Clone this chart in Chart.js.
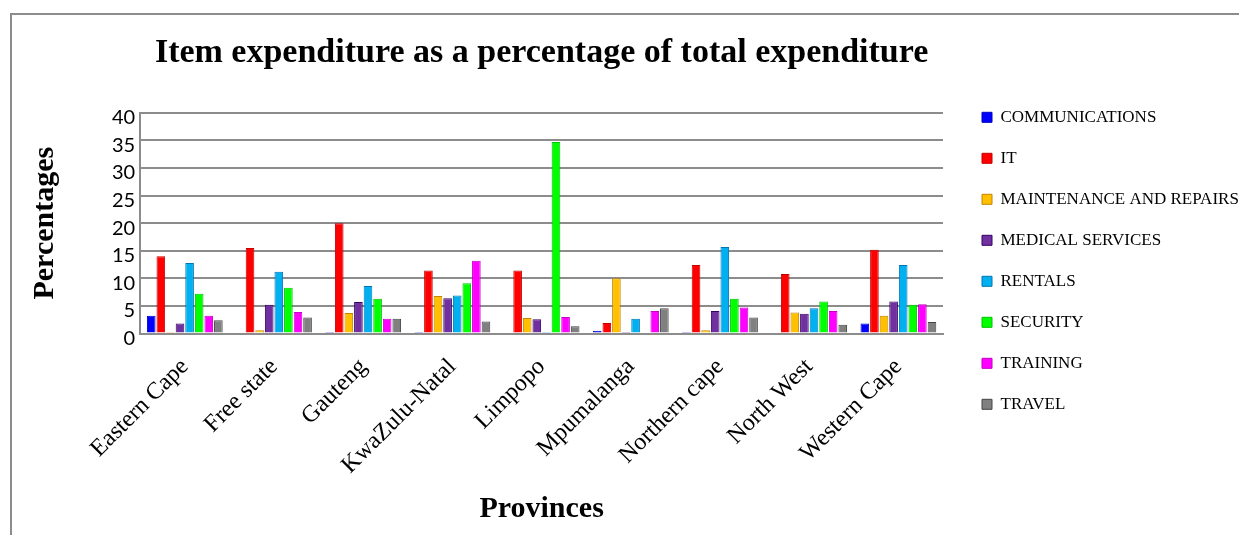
<!DOCTYPE html>
<html>
<head>
<meta charset="utf-8">
<script src="https://cdn.jsdelivr.net/npm/chart.js@4.4.1/dist/chart.umd.min.js"></script>
<style>
  html, body { margin: 0; padding: 0; background: #fff; overflow: hidden; }
  #frame {
    position: absolute; left: 10px; top: 13px;
    border-left: 2px solid #8c8c8c; border-top: 2px solid #8c8c8c;
    width: 1240px; height: 530px;
  }
  #wrap { position: absolute; left: 0; top: 0; width: 1227px; height: 520px; }
</style>
</head>
<body>
<div id="frame"><div id="wrap"><canvas id="chart"></canvas></div></div>
<script>
// provinces on the x axis
const provinces = ['Eastern Cape', 'Free state', 'Gauteng', 'KwaZulu-Natal', 'Limpopo',
                   'Mpumalanga', 'Northern cape', 'North West', 'Western Cape'];

// expenditure items (% of total), one value per province
const communications = [3.2, 0.2, 0.3, 0.1, 0.2, 0.5, 0.3, 0.2, 1.8];
const it             = [14.0, 15.5, 20.0, 11.4, 11.4, 1.9, 12.4, 10.8, 15.2];
const maintenance    = [0.3, 0.6, 3.7, 6.8, 2.8, 10.0, 0.6, 3.8, 3.2];
const medical        = [1.8, 5.2, 5.7, 6.4, 2.6, 0.1, 4.1, 3.6, 5.8];
const rentals        = [12.8, 11.2, 8.6, 6.9, 0.1, 2.7, 15.7, 4.6, 12.4];
const security       = [7.2, 8.3, 6.3, 9.1, 34.7, 0.2, 6.3, 5.8, 5.2];
const training       = [3.2, 3.9, 2.7, 13.2, 3.0, 4.1, 4.7, 4.1, 5.3];
const travel         = [2.4, 2.9, 2.7, 2.2, 1.3, 4.6, 2.9, 1.6, 2.1];

const seriesNames = ['COMMUNICATIONS', 'IT', 'MAINTENANCE AND REPAIRS', 'MEDICAL SERVICES',
                     'RENTALS', 'SECURITY', 'TRAINING', 'TRAVEL'];
const seriesValues = [communications, it, maintenance, medical, rentals, security, training, travel];
const seriesColors = ['#0000ff', '#ff0000', '#ffc000', '#7030a0', '#00b0f0', '#00ff00', '#ff00ff', '#808080'];

// darker edge for each bar, gives a bit of the old 3d look
function shade(hex, amt) {
    const n = parseInt(hex.slice(1), 16);
    const r = Math.max(0, (n >> 16) - amt), g = Math.max(0, ((n >> 8) & 255) - amt), b = Math.max(0, (n & 255) - amt);
    return 'rgb(' + r + ',' + g + ',' + b + ')';
}

const serif = '"Liberation Serif", serif';
const ctx = document.getElementById('chart').getContext('2d');

new Chart(ctx, {
    type: 'bar',
    data: {
        labels: provinces,
        datasets: seriesNames.map((name, i) => ({
            label: name,
            data: seriesValues[i],
            backgroundColor: seriesColors[i],
            borderColor: shade(seriesColors[i], 60),
            borderWidth: 1,
            categoryPercentage: 0.86,
            barPercentage: 0.9
        }))
    },
    options: {
        responsive: true,
        maintainAspectRatio: false,
        animation: false,
        layout: { padding: { left: 12, top: 0, right: 0, bottom: 0 } },
        plugins: {
            title: {
                display: true,
                fullSize: false, // center over the plot, not the whole canvas
                text: 'Item expenditure as a percentage of total expenditure',
                color: '#000',
                font: { family: serif, size: 34, weight: 'bold' },
                padding: { top: 18, bottom: 39 }
            },
            legend: {
                position: 'right',
                align: 'start',
                maxWidth: 281,
                title: {
                    display: true,
                    text: ' ',
                    font: { size: 9 },
                    padding: { top: 0, bottom: 59 }
                },
                labels: {
                    color: '#000',
                    boxWidth: 10,
                    boxHeight: 10,
                    padding: 24,
                    font: { family: serif, size: 17 }
                }
            },
            tooltip: { enabled: false }
        },
        scales: {
            x: {
                grid: { display: false },
                border: { display: true, color: '#8c8c8c', width: 2 },
                ticks: {
                    color: '#000',
                    minRotation: 45,
                    maxRotation: 45,
                    padding: 13,
                    font: { family: serif, size: 24, lineHeight: 1 }
                },
                title: {
                    display: true,
                    text: 'Provinces',
                    color: '#000',
                    font: { family: serif, size: 30, weight: 'bold' },
                    padding: { top: 0, bottom: 8 }
                }
            },
            y: {
                min: 0,
                max: 40,
                ticks: {
                    stepSize: 5,
                    autoSkip: false,
                    color: '#000',
                    padding: 5,
                    labelOffset: 5,
                    font: { family: 'Lato, sans-serif', size: 20 }
                },
                grid: { color: '#8c8c8c', lineWidth: 2, drawTicks: false },
                border: { display: true, color: '#8c8c8c', width: 2 },
                title: {
                    display: true,
                    text: 'Percentages',
                    color: '#000',
                    font: { family: serif, size: 30, weight: 'bold' },
                    padding: { top: 3, bottom: 44 }
                }
            },
            // empty strip between the plot and the legend
            gap: {
                position: 'right',
                display: true,
                grid: { display: false },
                border: { display: false },
                ticks: { display: false },
                afterFit: (scale) => { scale.width = 15; }
            }
        }
    }
});
</script>
</body>
</html>
